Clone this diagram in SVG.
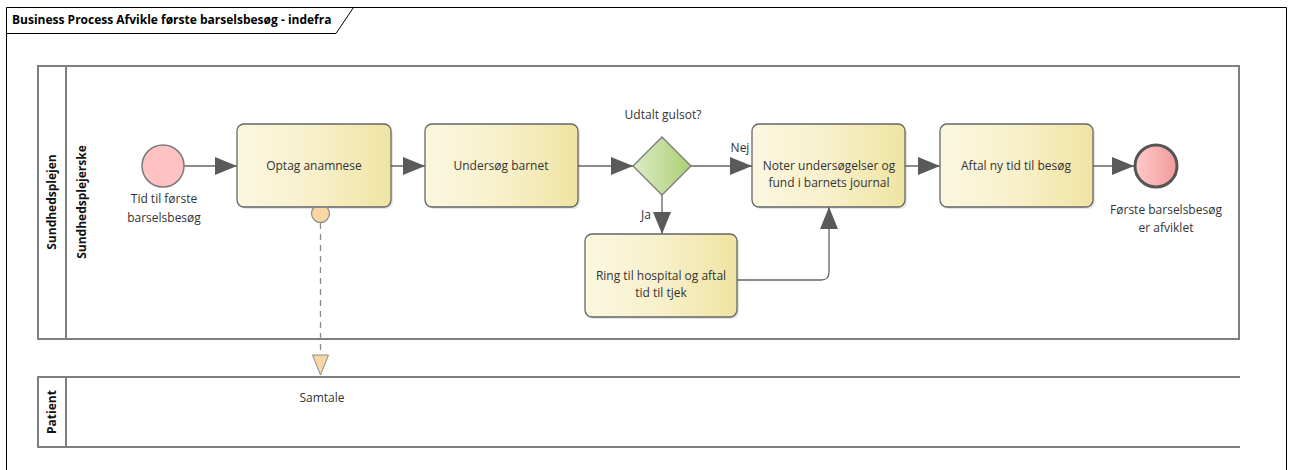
<svg xmlns="http://www.w3.org/2000/svg" width="1290" height="470" viewBox="0 0 1290 470">
  <defs>
    <linearGradient id="taskFill" x1="0" y1="0" x2="1" y2="0">
      <stop offset="0" stop-color="#FBF7E0"/>
      <stop offset="0.45" stop-color="#F8F1CE"/>
      <stop offset="1" stop-color="#F0E4A2"/>
    </linearGradient>
    <linearGradient id="gatewayFill" x1="0" y1="0" x2="1" y2="0">
      <stop offset="0" stop-color="#DDEDC4"/>
      <stop offset="1" stop-color="#A9CF74"/>
    </linearGradient>
    <linearGradient id="endFill" x1="0" y1="0" x2="1" y2="0">
      <stop offset="0" stop-color="#FFCACA"/>
      <stop offset="1" stop-color="#F29A9A"/>
    </linearGradient>
    <marker id="arrow" viewBox="0 0 22 18" refX="22" refY="9" markerWidth="22" markerHeight="18" markerUnits="userSpaceOnUse" orient="auto">
      <path d="M0,0 L22,9 L0,18 Z" fill="#5A5A5A"/>
    </marker>
    <marker id="dataArrow" viewBox="0 0 18 22" refX="9" refY="22" markerWidth="18" markerHeight="22" markerUnits="userSpaceOnUse" orient="0">
      <path d="M1,1 L17,1 L9,21 Z" fill="#F8D7A4" stroke="#8A8A8A" stroke-width="1"/>
    </marker>
  </defs>
  <style>
    text { font-family: "Open Sans", "Liberation Sans", sans-serif; fill: #333333; }
    .label { font-size: 12px; text-anchor: middle; }
    .lane-title { font-size: 12px; font-weight: bold; text-anchor: middle; fill: #111111; }
    .frame-title { font-size: 12px; font-weight: bold; fill: #000000; }
    .pool { fill: none; stroke: #7F7F7F; stroke-width: 2; }
    .task { fill: url(#taskFill); stroke: #666666; stroke-width: 1.3; }
    .shadow { fill: #000000; opacity: 0.1; }
    .flow { fill: none; stroke: #666666; stroke-width: 1.3; marker-end: url(#arrow); }
    .assoc { fill: none; stroke: #8A8A8A; stroke-width: 1.3; stroke-dasharray: 6 5; marker-end: url(#dataArrow); }
  </style>

  <rect width="1290" height="470" fill="#FFFFFF"/>

  <!-- diagram frame with title tab -->
  <g id="frame">
    <path d="M6.5,470 L6.5,7.5 L1286.5,7.5 L1286.5,470" fill="none" stroke="#000000" stroke-width="1"/>
    <path d="M6.5,33.5 L336,33.5 L353.5,7.5" fill="none" stroke="#000000" stroke-width="1"/>
    <text class="frame-title" x="12" y="24">Business Process Afvikle første barselsbesøg - indefra</text>
  </g>

  <!-- pool Sundhedsplejen with lane Sundhedsplejerske -->
  <g id="pool-sundhedsplejen">
    <rect class="pool" x="38" y="66" width="1201" height="273"/>
    <line class="pool" x1="66" y1="66" x2="66" y2="339"/>
    <text class="lane-title" transform="translate(56,202) rotate(-90)">Sundhedsplejen</text>
    <text class="lane-title" transform="translate(86,202) rotate(-90)">Sundhedsplejerske</text>
  </g>

  <!-- pool Patient (open on the right) -->
  <g id="pool-patient">
    <path class="pool" d="M1240,377 L38,377 L38,447 L1240,447"/>
    <line class="pool" x1="66" y1="377" x2="66" y2="447"/>
    <text class="lane-title" transform="translate(56,412) rotate(-90)">Patient</text>
  </g>

  <!-- sequence flows and data association -->
  <g id="connectors">
    <line class="flow" x1="184" y1="166" x2="237" y2="166"/>
    <line class="flow" x1="391" y1="166" x2="425" y2="166"/>
    <line class="flow" x1="578" y1="166" x2="633" y2="166"/>
    <line class="flow" x1="691" y1="166" x2="752" y2="166"/>
    <line class="flow" x1="662" y1="195" x2="662" y2="234"/>
    <path class="flow" d="M737,280 L821,280 Q829,280 829,272 L829,207"/>
    <line class="flow" x1="905" y1="166" x2="940" y2="166"/>
    <line class="flow" x1="1093" y1="166" x2="1134" y2="166"/>
    <line class="assoc" x1="320.5" y1="223" x2="320.5" y2="376"/>
    <text class="label" x="740" y="152">Nej</text>
    <text class="label" x="646" y="219">Ja</text>
  </g>

  <!-- start event -->
  <g id="start-event">
    <circle cx="163" cy="166" r="21" fill="#FFC2C2" stroke="#7A7A7A" stroke-width="1.5"/>
    <text class="label" x="164" y="203">Tid til første</text>
    <text class="label" x="164" y="222">barselsbesøg</text>
  </g>

  <g id="task-optag-anamnese">
    <rect class="shadow" x="239" y="126" width="154" height="83" rx="7"/>
    <rect class="task" x="237" y="124" width="154" height="83" rx="7"/>
    <text class="label" x="314" y="170">Optag anamnese</text>
  </g>

  <g id="data-samtale">
    <path d="M313.8,207.5 A9,9 0 1 0 327.2,207.5 Z" fill="#F8D7A4" stroke="#8A8A8A" stroke-width="1.2"/>
    <text class="label" x="322" y="402">Samtale</text>
  </g>

  <g id="task-undersoeg-barnet">
    <rect class="shadow" x="427" y="126" width="153" height="83" rx="7"/>
    <rect class="task" x="425" y="124" width="153" height="83" rx="7"/>
    <text class="label" x="501" y="170">Undersøg barnet</text>
  </g>

  <g id="gateway-gulsot">
    <path d="M662,137 L691,166 L662,195 L633,166 Z" fill="url(#gatewayFill)" stroke="#7A7A7A" stroke-width="1.3"/>
    <text class="label" x="663" y="119">Udtalt gulsot?</text>
  </g>

  <g id="task-noter">
    <rect class="shadow" x="754" y="126" width="153" height="83" rx="7"/>
    <rect class="task" x="752" y="124" width="153" height="83" rx="7"/>
    <text class="label" x="829" y="170">Noter undersøgelser og</text>
    <text class="label" x="829" y="187">fund i barnets journal</text>
  </g>

  <g id="task-ring-hospital">
    <rect class="shadow" x="587" y="236" width="152" height="83" rx="7"/>
    <rect class="task" x="585" y="234" width="152" height="83" rx="7"/>
    <text class="label" x="661" y="280">Ring til hospital og aftal</text>
    <text class="label" x="661" y="297">tid til tjek</text>
  </g>

  <g id="task-aftal-ny-tid">
    <rect class="shadow" x="942" y="126" width="153" height="83" rx="7"/>
    <rect class="task" x="940" y="124" width="153" height="83" rx="7"/>
    <text class="label" x="1016" y="170">Aftal ny tid til besøg</text>
  </g>

  <g id="end-event">
    <circle cx="1156" cy="166" r="21" fill="url(#endFill)" stroke="#555555" stroke-width="3"/>
    <text class="label" x="1166" y="214">Første barselsbesøg</text>
    <text class="label" x="1166" y="232">er afviklet</text>
  </g>
</svg>
